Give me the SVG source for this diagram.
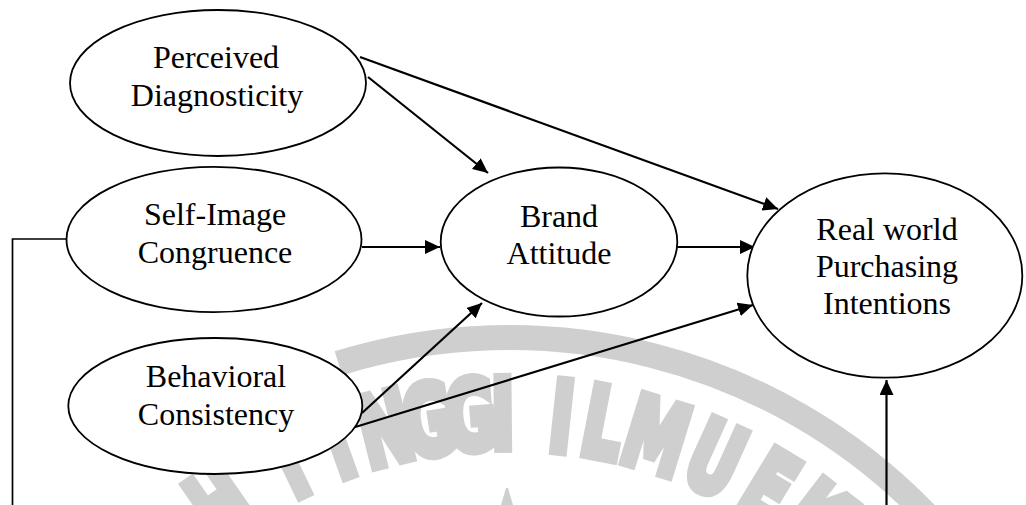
<svg xmlns="http://www.w3.org/2000/svg" width="1026" height="505" viewBox="0 0 1026 505">
  <style>
    .node ellipse { fill: #ffffff; stroke: #000000; stroke-width: 1.8; }
    .node text { font-family: "Liberation Serif", "Times New Roman", serif; font-size: 32px; fill: #000000; text-anchor: middle; }
    .edge { fill: none; stroke: #000000; stroke-width: 2.2; }
    .edge.plain { stroke-width: 1.7; }
    .wm { fill: #cfcfcf; }
    .wm text { font-family: "DejaVu Sans", sans-serif; font-weight: bold; font-size: 96px; text-anchor: middle; stroke: #cfcfcf; stroke-width: 10; stroke-linejoin: miter; }
  </style>
  <defs>
    <marker id="arrow" viewBox="0 0 15 14" refX="15" refY="7" markerWidth="15" markerHeight="14" markerUnits="userSpaceOnUse" orient="auto">
      <path d="M0,0 L15,7 L0,14 Z" fill="#000000"/>
    </marker>
  </defs>

  <rect width="1026" height="505" fill="#ffffff"/>

  <!-- background seal: arc band with lettering -->
  <g id="watermark" class="wm">
    <path d="M338.4,363.3 A580,580 0 0 1 1060,1100" fill="none" stroke="#cfcfcf" stroke-width="25"/>
    <text transform="translate(239.8,532.1) rotate(-34.8) scale(0.64,1)">H</text>
    <text transform="translate(304.2,494.5) rotate(-25.7) scale(0.64,1)">T</text>
    <text transform="translate(349.6,475.5) rotate(-19.7) scale(0.64,1)">I</text>
    <text transform="translate(393.5,462.1) rotate(-14.1) scale(0.64,1)">N</text>
    <text transform="translate(433.6,453.9) rotate(-9.1) scale(0.64,1)">G</text>
    <text transform="translate(472.8,449.3) rotate(-4.3) scale(0.64,1)">G</text>
    <text transform="translate(503.1,448.0) rotate(-0.6) scale(0.64,1)">I</text>
    <text transform="translate(558.0,450.7) rotate(6.1) scale(0.64,1)">I</text>
    <text transform="translate(596.9,456.5) rotate(10.9) scale(0.64,1)">L</text>
    <text transform="translate(646.2,468.8) rotate(17.1) scale(0.64,1)">M</text>
    <text transform="translate(701.4,489.6) rotate(24.3) scale(0.64,1)">U</text>
    <text transform="translate(751.5,516.0) rotate(31.2) scale(0.64,1)">E</text>
    <text transform="translate(794.1,545.1) rotate(37.5) scale(0.64,1)">K</text>
    <polygon points="501,505 506,488 508,488 513,505"/>
  </g>

  <!-- connectors -->
  <g id="connectors">
    <line class="edge" x1="368" y1="77" x2="488" y2="173" marker-end="url(#arrow)"/>
    <line class="edge" x1="360" y1="57" x2="778" y2="209" marker-end="url(#arrow)"/>
    <line class="edge" x1="362" y1="247" x2="440" y2="247" marker-end="url(#arrow)"/>
    <line class="edge" x1="677" y1="247" x2="755" y2="247" marker-end="url(#arrow)"/>
    <line class="edge" x1="362" y1="413" x2="482" y2="303" marker-end="url(#arrow)"/>
    <line class="edge" x1="352" y1="428" x2="753" y2="305" marker-end="url(#arrow)"/>
    <line class="edge" x1="886.5" y1="505" x2="886.5" y2="380" marker-end="url(#arrow)"/>
    <polyline class="edge plain" points="67,239 12.5,239 12.5,505"/>
  </g>

  <!-- nodes -->
  <g id="perceived-diagnosticity" class="node">
    <ellipse cx="218" cy="83" rx="148" ry="73"/>
    <text x="216" y="68">Perceived</text>
    <text x="217" y="106">Diagnosticity</text>
  </g>
  <g id="self-image-congruence" class="node">
    <ellipse cx="214" cy="239.5" rx="147.5" ry="72.7"/>
    <text x="215" y="225">Self-Image</text>
    <text x="215" y="263">Congruence</text>
  </g>
  <g id="behavioral-consistency" class="node">
    <ellipse cx="215.3" cy="406" rx="147" ry="68"/>
    <text x="216" y="387">Behavioral</text>
    <text x="216" y="425">Consistency</text>
  </g>
  <g id="brand-attitude" class="node">
    <ellipse cx="559" cy="242" rx="118.3" ry="74.5"/>
    <text x="559" y="227">Brand</text>
    <text x="559" y="264">Attitude</text>
  </g>
  <g id="purchasing-intentions" class="node">
    <ellipse cx="884.8" cy="275.5" rx="137.5" ry="102.2"/>
    <text x="887" y="240">Real world</text>
    <text x="887" y="277">Purchasing</text>
    <text x="887" y="314">Intentions</text>
  </g>
</svg>
